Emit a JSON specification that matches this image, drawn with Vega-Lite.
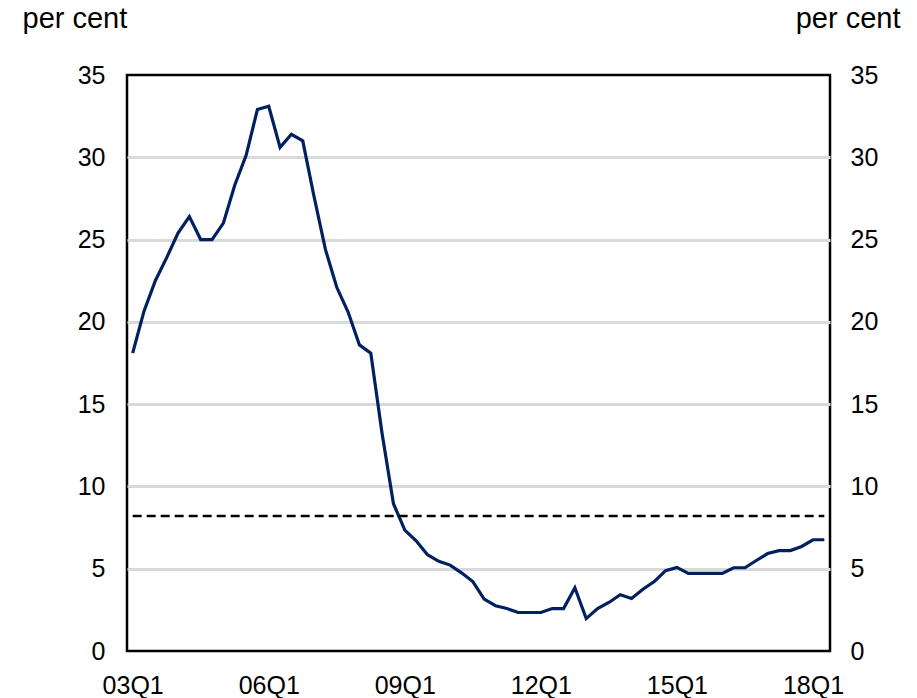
{
  "$schema": "https://vega.github.io/schema/vega-lite/v6.json",
  "autosize": {"type": "none"},
  "width": 703,
  "height": 576,
  "padding": {"left": 127, "top": 75, "right": 87, "bottom": 47},
  "background": "white",
  "config": {
    "font": "Liberation Sans",
    "view": {"stroke": "black", "strokeWidth": 2.5},
    "axis": {"labelFont": "Liberation Sans", "labelColor": "black", "titleFont": "Liberation Sans", "titleColor": "black", "titleFontWeight": "normal"}
  },
  "datasets": {
    "series": [
      {"q": "03Q1", "v": 18.1}, {"q": "03Q2", "v": 20.65}, {"q": "03Q3", "v": 22.5}, {"q": "03Q4", "v": 23.9},
      {"q": "04Q1", "v": 25.4}, {"q": "04Q2", "v": 26.4}, {"q": "04Q3", "v": 25.0}, {"q": "04Q4", "v": 25.0},
      {"q": "05Q1", "v": 26.0}, {"q": "05Q2", "v": 28.3}, {"q": "05Q3", "v": 30.1}, {"q": "05Q4", "v": 32.9},
      {"q": "06Q1", "v": 33.1}, {"q": "06Q2", "v": 30.6}, {"q": "06Q3", "v": 31.4}, {"q": "06Q4", "v": 31.0},
      {"q": "07Q1", "v": 27.6}, {"q": "07Q2", "v": 24.4}, {"q": "07Q3", "v": 22.1}, {"q": "07Q4", "v": 20.6},
      {"q": "08Q1", "v": 18.6}, {"q": "08Q2", "v": 18.1}, {"q": "08Q3", "v": 13.2}, {"q": "08Q4", "v": 8.95},
      {"q": "09Q1", "v": 7.35}, {"q": "09Q2", "v": 6.7}, {"q": "09Q3", "v": 5.85}, {"q": "09Q4", "v": 5.45},
      {"q": "10Q1", "v": 5.22}, {"q": "10Q2", "v": 4.75}, {"q": "10Q3", "v": 4.22}, {"q": "10Q4", "v": 3.15},
      {"q": "11Q1", "v": 2.75}, {"q": "11Q2", "v": 2.58}, {"q": "11Q3", "v": 2.34}, {"q": "11Q4", "v": 2.34},
      {"q": "12Q1", "v": 2.34}, {"q": "12Q2", "v": 2.58}, {"q": "12Q3", "v": 2.58}, {"q": "12Q4", "v": 3.84},
      {"q": "13Q1", "v": 1.97}, {"q": "13Q2", "v": 2.58}, {"q": "13Q3", "v": 2.95}, {"q": "13Q4", "v": 3.42},
      {"q": "14Q1", "v": 3.19}, {"q": "14Q2", "v": 3.75}, {"q": "14Q3", "v": 4.22}, {"q": "14Q4", "v": 4.88},
      {"q": "15Q1", "v": 5.08}, {"q": "15Q2", "v": 4.72}, {"q": "15Q3", "v": 4.72}, {"q": "15Q4", "v": 4.72},
      {"q": "16Q1", "v": 4.72}, {"q": "16Q2", "v": 5.06}, {"q": "16Q3", "v": 5.06}, {"q": "16Q4", "v": 5.5},
      {"q": "17Q1", "v": 5.92}, {"q": "17Q2", "v": 6.1}, {"q": "17Q3", "v": 6.1}, {"q": "17Q4", "v": 6.35},
      {"q": "18Q1", "v": 6.76}, {"q": "18Q2", "v": 6.76}
    ],
    "threshold": [
      {"q": "03Q1", "v": 8.2},
      {"q": "18Q2", "v": 8.2}
    ]
  },
  "layer": [
    {
      "data": {"name": "series"},
      "mark": {"type": "line", "color": "#002060", "strokeWidth": 3.2, "strokeJoin": "miter"},
      "encoding": {
        "x": {
          "field": "q", "type": "ordinal", "sort": null,
          "scale": {"type": "point", "padding": 0.5},
          "axis": {
            "values": ["03Q1", "06Q1", "09Q1", "12Q1", "15Q1", "18Q1"],
            "labelAngle": 0, "ticks": false, "domain": false, "grid": false,
            "labelFontSize": 25, "labelPadding": 22, "title": null
          }
        },
        "y": {
          "field": "v", "type": "quantitative",
          "scale": {"domain": [0, 35], "nice": false, "zero": true},
          "axis": {
            "orient": "left", "values": [0, 5, 10, 15, 20, 25, 30, 35],
            "ticks": false, "domain": false, "grid": true,
            "gridColor": "#d9d9d9", "gridWidth": 3,
            "gridOpacity": {"condition": {"test": "datum.value == 0 || datum.value == 35", "value": 0}, "value": 1},
            "labelFontSize": 25, "labelPadding": 22,
            "title": "per cent", "titleAngle": 0, "titleFontSize": 29,
            "titleAlign": "left", "titleBaseline": "middle", "titleX": -105, "titleY": -57
          }
        }
      }
    },
    {
      "data": {"name": "threshold"},
      "mark": {"type": "line", "color": "black", "strokeWidth": 2.5, "strokeDash": [9, 5]},
      "encoding": {
        "x": {"field": "q", "type": "ordinal", "sort": null},
        "y": {
          "field": "v", "type": "quantitative",
          "axis": {
            "orient": "right", "values": [0, 5, 10, 15, 20, 25, 30, 35],
            "ticks": false, "domain": false, "grid": false,
            "labelFontSize": 25, "labelPadding": 20,
            "title": "per cent", "titleAngle": 0, "titleFontSize": 29,
            "titleAlign": "right", "titleBaseline": "middle", "titleX": 70, "titleY": -57
          }
        }
      }
    }
  ],
  "resolve": {"axis": {"y": "independent"}}
}
